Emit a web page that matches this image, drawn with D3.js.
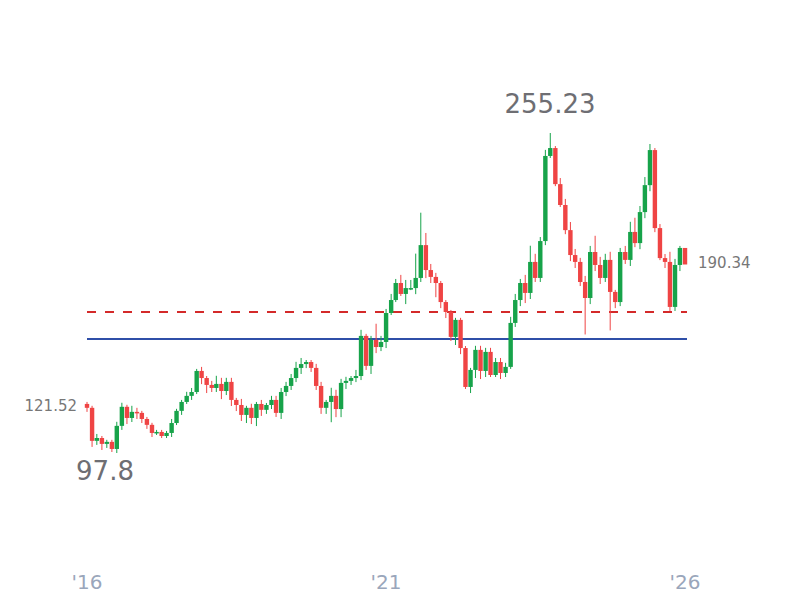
<!DOCTYPE html>
<html lang="en">
<head>
<meta charset="UTF-8">
<title>Candles</title>
<script src="https://d3js.org/d3.v7.min.js"></script>
<style>body{margin:0;background:#fff}</style>
</head>
<body>
<div id="chart"></div>
<script>
  const w = 800, h = 600;

  // monthly closes, Jan 2016 .. Jan 2026
  const firstOpen = 121.52;
  const closes = [119.6,103.3,104.7,101.8,102.8,99.3,110.7,120.1,114.6,117.6,117.1,114.1,
    111.2,107.2,107.7,105.7,107.2,112.1,118.1,122.5,125.5,127.4,137.8,134.3,
    130.9,129.4,131.4,127.9,132.4,123.5,121.0,116.1,119.6,114.6,121.5,118.6,
    121.0,123.5,117.1,127.4,130.4,134.3,139.3,141.2,142.2,139.3,130.4,119.6,
    122.5,125.5,119.0,131.9,132.9,134.3,135.3,155.1,140.3,153.1,149.6,152.1,
    166.4,172.8,181.2,175.8,178.7,178.7,183.7,199.9,187.6,184.2,181.2,171.8,
    166.9,154.6,163.0,149.1,129.9,138.3,148.2,137.8,147.2,135.8,142.2,136.8,
    139.8,161.5,172.8,181.2,176.3,191.6,183.7,201.9,243.9,247.8,230.0,219.7,
    207.3,195.0,191.6,181.7,173.8,196.5,190.1,183.7,192.6,176.8,171.8,196.5,
    192.6,206.4,200.9,216.2,229.5,246.8,208.3,193.5,191.6,169.4,190.1,198.5,190.34];
  // wick lengths above body / below body
  const wickUp = [1,1,2,1,1,1,2,2,1,3,2,1, 1,1,1,1,1,2,1,1,2,2,1,2,
    1,2,4,3,2,2,1,3,1,2,1,2, 1,2,2,2,2,2,3,3,1,1,2,2,
    1,4,3,2,2,1,3,3,1,2,8,3, 2,3,2,4,4,4,12,16,6,3,2,1,
    1,1,1,1,1,1,2,2,2,2,2,2, 2,3,3,2,4,8,4,2,3,7,1,
    3,3,4,3,2,3,3,8,4,3,4,1, 2,3,5,7,3,4,3,1,2,2,5,3,1];
  const wickDn = [2,3,2,3,2,1.5,2,2,3,2,3,2, 2,2,1,1,1,2,1,2,1,2,1,3,
    4,2,2,4,2,3,3,3,4,3,4,3, 2,2,2,3,2,2,2,3,2,2,2,3,
    3,10,4,4,3,2,2,2,2,4,3,2, 3,1,1,1,5,1,3,2,4,3,7,3,
    3,2,4,3,1,3,4,4,3,1,1,3, 2,1,2,3,5,3,2,2,2,1,1,
    1,2,3,3,2,18,3,3,3,2,19,3, 2,2,3,2,3,3,3,2,1,3,2,2,3];

  const refDashed = 166.9, refSolid = 153.6;
  const tickYears = [2016, 2021, 2026];

  const data = closes.map((c, i) => {
    const o = i === 0 ? firstOpen : closes[i - 1];
    return {
      date: new Date(2016, i, 1), o: o, c: c,
      hi: Math.max(o, c) + wickUp[i], lo: Math.min(o, c) - wickDn[i]
    };
  });
  data[5].lo = 97.8;
  data[93].hi = 255.23;

  const x = d3.scaleTime().domain([new Date(2016, 0, 1), new Date(2026, 0, 1)]).range([87, 685]);
  const y = d3.scaleLinear().domain([97.8, 255.23]).range([452, 133]);

  const svg = d3.select("#chart").append("svg").attr("width", w).attr("height", h)
    .style("font-family", "DejaVu Sans, sans-serif");

  svg.append("line").attr("x1", 87).attr("x2", 687).attr("y1", y(refSolid)).attr("y2", y(refSolid))
    .attr("stroke", "#2f4fa8").attr("stroke-width", 2);
  svg.append("line").attr("x1", 87).attr("x2", 687).attr("y1", y(refDashed)).attr("y2", y(refDashed))
    .attr("stroke", "#d42a2a").attr("stroke-width", 2).attr("stroke-dasharray", "9,9");

  const g = svg.selectAll(".candle").data(data).enter().append("g")
    .attr("fill", d => d.c >= d.o ? "#17a34a" : "#ef4444")
    .attr("stroke", d => d.c >= d.o ? "#17a34a" : "#ef4444");
  g.append("line").attr("x1", d => x(d.date)).attr("x2", d => x(d.date))
    .attr("y1", d => y(d.hi)).attr("y2", d => y(d.lo)).attr("stroke-width", 1);
  g.append("rect").attr("x", d => x(d.date) - 2.2).attr("width", 4.4)
    .attr("y", d => y(Math.max(d.o, d.c)))
    .attr("height", d => Math.max(1.5, Math.abs(y(d.o) - y(d.c)))).attr("stroke", "none");

  svg.selectAll(".tick").data(tickYears).enter().append("text")
    .attr("x", d => x(new Date(d, 0, 1))).attr("y", 589).attr("text-anchor", "middle")
    .attr("font-size", 20).attr("fill", "#9aa6bb").text(d => "'" + String(d).slice(2));

  svg.append("text").attr("x", 77).attr("y", 411).attr("text-anchor", "end")
    .attr("font-size", 15).attr("fill", "#777").text(firstOpen);
  svg.append("text").attr("x", 698).attr("y", 268)
    .attr("font-size", 15).attr("fill", "#777").text(closes[closes.length - 1]);
  svg.append("text").attr("x", 550).attr("y", 113).attr("text-anchor", "middle")
    .attr("font-size", 26).attr("fill", "#6e6e73").text(data[93].hi);
  svg.append("text").attr("x", 105).attr("y", 480).attr("text-anchor", "middle")
    .attr("font-size", 26).attr("fill", "#6e6e73").text(data[5].lo);
</script>
</body>
</html>
